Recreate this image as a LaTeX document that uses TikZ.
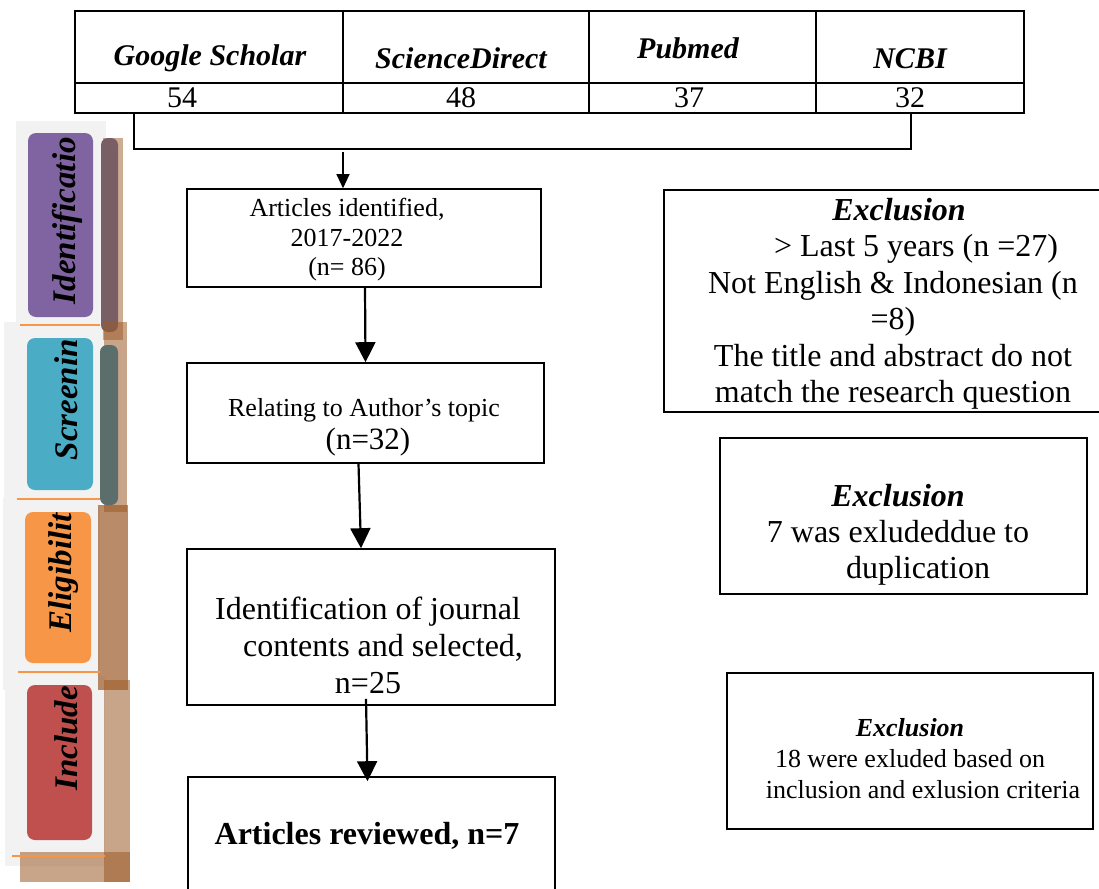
\documentclass[tikz,border=0pt]{standalone}
\usepackage{fontspec}
\setmainfont{Liberation Serif}
\usetikzlibrary{arrows.meta}
\definecolor{idpurple}{HTML}{8064A2}
\definecolor{scteal}{HTML}{4BACC6}
\definecolor{elorange}{HTML}{F79646}
\definecolor{inred}{HTML}{C0504D}
\definecolor{panelgray}{HTML}{F2F2F2}
\definecolor{shadebrown}{HTML}{9C5A28}
\definecolor{mauve}{HTML}{7A5E66}
\definecolor{tealdark}{HTML}{5C6E6C}
\begin{document}
\begin{tikzpicture}[x=1pt,y=-1pt,
  cellbox/.style={draw=black,line width=1.6pt,inner sep=0pt},
  flowbox/.style={draw=black,line width=1.6pt,inner sep=0pt},
  headtxt/.style={font=\fontsize{30}{34}\selectfont\bfseries\itshape,inner sep=0pt},
  numtxt/.style={font=\fontsize{30}{34}\selectfont,inner sep=0pt},
  flowtxt/.style={align=center,inner sep=0pt},
  sidetxt/.style={rotate=90,anchor=east,inner sep=0pt,font=\fontsize{33}{36}\selectfont\bfseries\itshape},
  bigarrow/.style={line width=2.2pt,-{Triangle[width=20pt,length=20pt]}},
  smallarrow/.style={line width=1.2pt,-{Triangle[width=13pt,length=14pt]}},
  sepline/.style={elorange,line width=1.2pt}
]
\useasboundingbox (0,0) rectangle (1099,888);
\clip (0,0) rectangle (1099,888);
\fill[white] (0,0) rectangle (1099,888);

% ---- left phase panels ----
\fill[panelgray] (16,121) rectangle (106,322);
\fill[panelgray] (4,322) rectangle (104,500);
\fill[panelgray] (3,497) rectangle (100,690);
\fill[panelgray] (5,676) rectangle (105,866);

\fill[shadebrown,opacity=.5] (103,138) rectangle (123,340);
\fill[mauve,rounded corners=7pt] (101,138) rectangle (118,332);
\fill[shadebrown,opacity=.55] (104,322) rectangle (127,512);
\fill[tealdark,rounded corners=7pt] (100,345) rectangle (118,505);
\fill[shadebrown,opacity=.7] (98,505) rectangle (128,690);
\fill[shadebrown,opacity=.55] (104,680) rectangle (130,882);
\fill[shadebrown,opacity=.55] (20,852) rectangle (130,882);

\draw[sepline] (20,325) -- (100,325);
\draw[sepline] (17,499) -- (100,499);
\draw[sepline] (18,672) -- (100,672);
\draw[sepline] (12,856) -- (105,856);

\fill[idpurple,rounded corners=8pt] (28,133) rectangle (93,317);
\fill[scteal,rounded corners=8pt] (27,338) rectangle (93,490);
\fill[elorange,rounded corners=8pt] (25,512) rectangle (91,663);
\fill[inred,rounded corners=8pt] (27,685) rectangle (92,840);

\node[sidetxt] (sid) at (67,137) {Identificatio};
\node[sidetxt] (ssc) at (66,339) {Screenin};
\node[sidetxt] (sel) at (64,513) {Eligibilit};
\node[sidetxt] (sin) at (66,686) {Include};

% ---- source table ----
\node[cellbox,minimum width=268pt,minimum height=72pt] (hGS) at (209,47) {};
\node[cellbox,minimum width=246pt,minimum height=72pt] (hSD) at (466,47) {};
\node[cellbox,minimum width=227pt,minimum height=72pt] (hPM) at (702.5,47) {};
\node[cellbox,minimum width=208pt,minimum height=72pt] (hNC) at (920,47) {};
\node[cellbox,minimum width=268pt,minimum height=30pt] (nGS) at (209,98) {};
\node[cellbox,minimum width=246pt,minimum height=30pt] (nSD) at (466,98) {};
\node[cellbox,minimum width=227pt,minimum height=30pt] (nPM) at (702.5,98) {};
\node[cellbox,minimum width=208pt,minimum height=30pt] (nNC) at (920,98) {};

\node[headtxt] (tGS) at (210,58) {Google Scholar};
\node[headtxt] (tSD) at (461,58) {ScienceDirect};
\node[headtxt] (tPM) at (688,48) {Pubmed};
\node[headtxt] (tNC) at (910,59) {NCBI};
\node[numtxt] (vGS) at (182,98) {54};
\node[numtxt] (vSD) at (461,98) {48};
\node[numtxt] (vPM) at (689,98) {37};
\node[numtxt] (vNC) at (910,98) {32};

% ---- flow boxes ----
\node[flowbox,minimum width=354pt,minimum height=98pt] (b1) at (364,238) {};
\node[flowbox,minimum width=357pt,minimum height=100pt] (b2) at (365.5,413) {};
\node[flowbox,minimum width=368pt,minimum height=156pt] (b3) at (371,627) {};
\node[flowbox,minimum width=367pt,minimum height=130pt] (b4) at (371.5,842) {};

\node[flowtxt,font=\fontsize{26}{29.5}\selectfont] (t1) at (347,240)
  {Articles identified,\\2017-2022\\(n= 86)};
\node[flowtxt,font=\fontsize{26}{30}\selectfont] (t2a) at (364,410) {Relating to Author’s topic};
\node[flowtxt,font=\fontsize{31}{34}\selectfont] (t2b) at (368,442) {(n=32)};
\node[flowtxt,font=\fontsize{32}{37}\selectfont] (t3) at (368,645)
  {Identification of journal\\\hspace*{30pt}contents and selected,\\n=25};
\node[flowtxt,font=\fontsize{32}{37}\selectfont\bfseries] (t4) at (367,836) {Articles reviewed, n=7};

% ---- exclusion boxes ----
\node[flowbox,minimum width=441pt,minimum height=222pt] (e1) at (884.5,301) {};
\node[flowbox,minimum width=367pt,minimum height=156pt] (e2) at (903.5,516) {};
\node[flowbox,minimum width=366pt,minimum height=156pt] (e3) at (910,751) {};

\node[flowtxt,font=\fontsize{32}{36.5}\selectfont] (x1) at (893,304)
  {\textbf{\textit{Exclusion}}\hspace*{-12pt}\\\hspace*{46pt}> Last 5 years (n =27)\\Not English \& Indonesian (n\hspace*{10pt}\\=8)\\The title and abstract do not\\match the research question};
\node[flowtxt,font=\fontsize{32}{36}\selectfont] (x2) at (898,535)
  {\textbf{\textit{Exclusion}}\\7 was exludeddue to\\\hspace*{40pt}duplication};
\node[flowtxt,font=\fontsize{26}{31}\selectfont] (x3) at (910,759)
  {\textbf{\textit{Exclusion}}\\18 were exluded based on\\\hspace*{26pt}inclusion and exlusion criteria};

% ---- connectors ----
\coordinate (brL) at ([xshift=60pt]hGS.south west |- nGS.south);
\coordinate (brR) at ([xshift=-9pt]nNC.south);
\draw[line width=1.6pt] (brL) -- ++(0,35) -| (brR);
\coordinate (arrStart) at (343,152);
\draw[smallarrow] (arrStart) -- ([xshift=-21pt]b1.north);
\draw[bigarrow] ([xshift=1pt]b1.south) -- (b2.north);
\draw[bigarrow] ([xshift=-7pt]b2.south) -- ([xshift=-10pt]b3.north);
\draw[bigarrow] ([xshift=-5pt,yshift=7pt]b3.south) -- ([xshift=-4pt,yshift=-5pt]b4.north);
\end{tikzpicture}
\end{document}
